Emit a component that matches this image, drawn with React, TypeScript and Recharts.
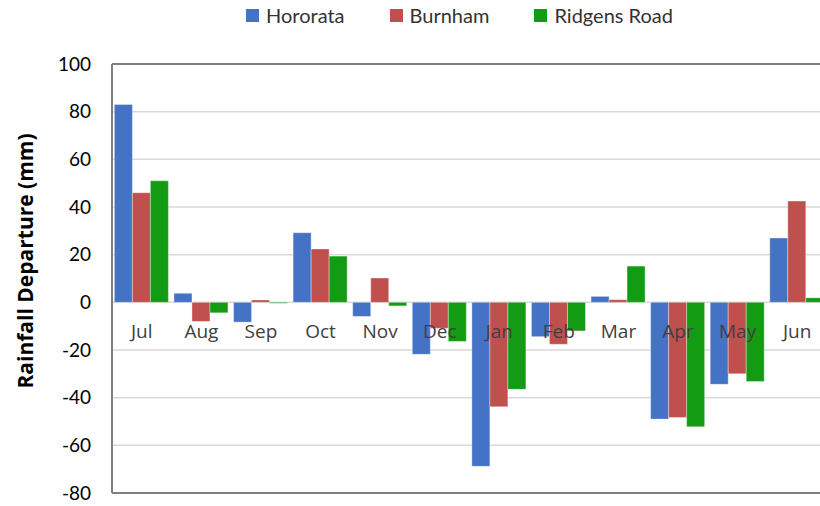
import {
    BarChart,
    Bar,
    XAxis,
    YAxis,
    CartesianGrid,
    ReferenceLine
} from 'recharts';

// --- Data ---
const months = ['Jul', 'Aug', 'Sep', 'Oct', 'Nov', 'Dec', 'Jan', 'Feb', 'Mar', 'Apr', 'May', 'Jun'];
const hororata = [83, 3.8, -8.3, 29.2, -5.9, -21.8, -68.8, -14.4, 2.5, -49, -34.4, 27];
const burnham = [46, -8, 1, 22.4, 10.2, -10.9, -43.8, -17.6, 1.1, -48.3, -30, 42.5];
const ridgensRoad = [51, -4.4, -0.4, 19.4, -1.5, -16.4, -36.5, -12, 15.2, -52.2, -33.2, 1.9];
const yTicks = [-80, -60, -40, -20, 0, 20, 40, 60, 80, 100];

const series = [
    { key: 'Hororata', values: hororata, color: '#4472C4' },
    { key: 'Burnham', values: burnham, color: '#C0504D' },
    { key: 'Ridgens Road', values: ridgensRoad, color: '#139B13' }
];

const data = months.map((m, i) => {
    const row: Record<string, string | number> = { month: m };
    series.forEach(s => { row[s.key] = s.values[i]; });
    return row;
});

// --- Layout ---
const WIDTH = 835;
const HEIGHT = 506;
const TOP = 64;
const BOTTOM = 12;
const X_AXIS_H = 1;
const Y_MIN = -80;
const Y_MAX = 100;
const plotHeight = HEIGHT - TOP - BOTTOM - X_AXIS_H;
const zeroFromBottom = plotHeight * (0 - Y_MIN) / (Y_MAX - Y_MIN);

// month labels sit just under the zero line rather than at the bottom
function MonthTick(props: any) {
    const { x, y, payload } = props;
    return (
        <text
            x={x}
            y={y - zeroFromBottom + 29}
            textAnchor="middle"
            dominantBaseline="central"
            fill="#404040"
            fontSize={19}
            fontFamily="'Open Sans', sans-serif"
        >
            {payload.value}
        </text>
    );
}

function YTitle() {
    return (
        <text
            x={25}
            y={261}
            transform="rotate(-90 25 261)"
            textAnchor="middle"
            dominantBaseline="central"
            fontWeight="bold"
            fontSize={21}
            fill="#000"
            fontFamily="'Open Sans', sans-serif"
        >
            Rainfall Departure (mm)
        </text>
    );
}

function ChartLegend() {
    return (
        <div style={{ position: 'absolute', left: 246, top: 2, display: 'flex', alignItems: 'center', fontFamily: 'Lato, sans-serif', fontSize: 20, color: '#333', lineHeight: '26px' }}>
            {series.map(s => (
                <div key={s.key} style={{ display: 'flex', alignItems: 'center', marginRight: 45 }}>
                    <span style={{ display: 'inline-block', width: 13, height: 13, background: s.color, marginRight: 7 }} />
                    <span>{s.key}</span>
                </div>
            ))}
        </div>
    );
}

export default function App() {
    return (
        <div style={{ position: 'absolute', left: 0, top: 0, width: 820, height: HEIGHT, overflow: 'hidden', background: '#fff' }}>
            <BarChart
                width={WIDTH}
                height={HEIGHT}
                data={data}
                margin={{ top: TOP, right: 8, left: 0, bottom: BOTTOM }}
                barCategoryGap="4%"
                barGap={0}
            >
                <CartesianGrid horizontal vertical={false} stroke="#D9D9D9" strokeWidth={1.5} />
                <XAxis
                    dataKey="month"
                    tick={<MonthTick />}
                    tickLine={false}
                    tickSize={0}
                    tickMargin={0}
                    axisLine={{ stroke: '#808080', strokeWidth: 2 }}
                    interval={0}
                    height={X_AXIS_H}
                />
                <YAxis
                    domain={[Y_MIN, Y_MAX]}
                    ticks={yTicks}
                    width={112}
                    tickLine={false}
                    tickMargin={15}
                    axisLine={{ stroke: '#808080', strokeWidth: 2 }}
                    tick={{ fill: '#000', fontSize: 19, fontFamily: 'Lato, sans-serif' }}
                    label={<YTitle />}
                />
                <ReferenceLine y={Y_MAX} stroke="#808080" strokeWidth={2} />
                {series.map(s => (
                    <Bar
                        key={s.key}
                        dataKey={s.key}
                        fill={s.color}
                        stroke="#ffffff"
                        strokeOpacity={0.35}
                        strokeWidth={1}
                        isAnimationActive={false}
                    />
                ))}
            </BarChart>
            <ChartLegend />
        </div>
    );
}
